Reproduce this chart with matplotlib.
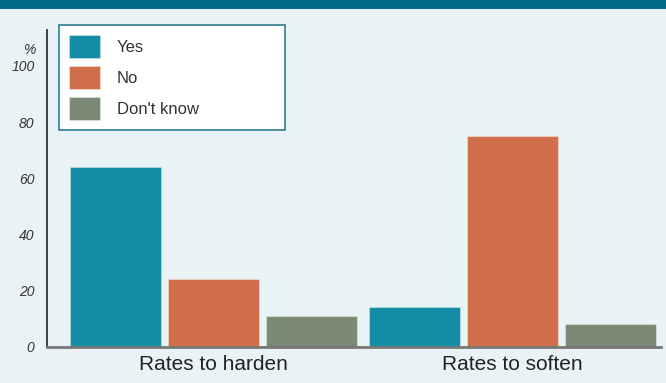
import numpy as np
import matplotlib.pyplot as plt
from matplotlib.patches import Rectangle

# survey answers, percent of respondents
groups = ['Rates to harden', 'Rates to soften']
answers = ['Yes', 'No', "Don't know"]
yes_pct = [64, 14]
no_pct = [24, 75]
dontknow_pct = [11, 8]
y_ticks = [0, 20, 40, 60, 80, 100]

colors = ['#138ca4', '#d06e49', '#7b8a75']
bg = '#e9f2f5'

plt.rcParams['font.family'] = ['Liberation Sans', 'DejaVu Sans']

fig = plt.figure(figsize=(6.66, 3.83), dpi=100, facecolor=bg)
ax = fig.add_axes([0.0706, 0.0953, 0.9214, 0.8264])
ax.set_facecolor(bg)

# dark header strip along the top edge
fig.patches.append(Rectangle((0, 1 - 9 / 383), 1, 9 / 383, transform=fig.transFigure,
                             facecolor='#006c87', edgecolor='none', zorder=0))

x = np.arange(len(groups))
step = 0.327
width = 0.304
for i, vals in enumerate([yes_pct, no_pct, dontknow_pct]):
    ax.bar(x + (i - 1) * step, vals, width, color=colors[i], label=answers[i],
           edgecolor=(1, 1, 1, 0.35), linewidth=0.8, zorder=2)

ax.set_xlim(-0.556, 1.496)
ax.set_ylim(0, 112.8)
ax.set_xticks(x)
ax.set_xticklabels(groups, fontsize=15, color='#222222')
ax.set_yticks(y_ticks)
ax.set_yticklabels([str(t) for t in y_ticks], fontsize=10, style='italic', color='#333333')
ax.tick_params(axis='both', length=0)
ax.tick_params(axis='y', pad=9)
ax.tick_params(axis='x', pad=6)

for side in ['top', 'right']:
    ax.spines[side].set_visible(False)
ax.spines['left'].set_color('#333333')
ax.spines['left'].set_linewidth(1.3)
ax.spines['bottom'].set_color('#777777')
ax.spines['bottom'].set_linewidth(2)

ax.annotate('%', xy=(0, 105.5), xycoords=('axes fraction', 'data'),
            xytext=(-12, 0), textcoords='offset pixels', ha='right', va='center',
            fontsize=10, style='italic', color='#333333')

leg = ax.legend(loc='upper left', bbox_to_anchor=(59 / 666, 1 - 133 / 383, 226 / 666, 108 / 383),
                bbox_transform=fig.transFigure, mode='expand', borderaxespad=0,
                fontsize=12, handlelength=1.88, handleheight=1.75, labelspacing=0.48,
                handletextpad=1.0, borderpad=0.6, fancybox=False, framealpha=1)
leg.get_frame().set_edgecolor('#2b7d90')
leg.get_frame().set_linewidth(1.2)
for t in leg.get_texts():
    t.set_color('#333333')

fig.savefig('out.png', dpi=100, facecolor=bg)
